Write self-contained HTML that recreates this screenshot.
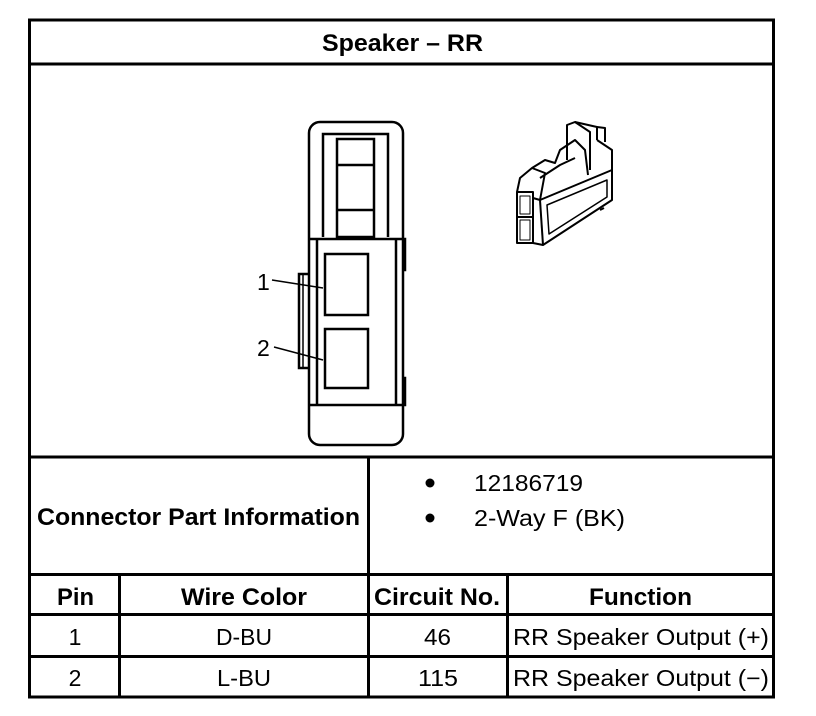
<!DOCTYPE html>
<html><head><meta charset="utf-8"><style>
html,body{margin:0;padding:0;background:#fff;}
svg{display:block;}
text{font-family:"Liberation Sans",Arial,sans-serif;fill:#000;}
.b{font-weight:bold;font-size:24px;}
.n{font-size:23px;}
</style></head><body>
<svg width="816" height="716" viewBox="0 0 816 716" xmlns="http://www.w3.org/2000/svg">
<g stroke="#000" stroke-width="3" fill="none">
<rect x="29.5" y="20" width="744" height="677"/>
<line x1="29" y1="64" x2="775" y2="64"/>
<line x1="29" y1="457" x2="775" y2="457"/>
<line x1="29" y1="574.5" x2="775" y2="574.5"/>
<line x1="29" y1="614.5" x2="775" y2="614.5"/>
<line x1="29" y1="656.5" x2="775" y2="656.5"/>
<line x1="368.5" y1="457" x2="368.5" y2="697"/>
<line x1="119.5" y1="574" x2="119.5" y2="697"/>
<line x1="507.5" y1="574" x2="507.5" y2="697"/>
</g>
<text class="b" x="322" y="51" textLength="161" lengthAdjust="spacingAndGlyphs">Speaker – RR</text>
<text class="b" x="37" y="525" textLength="323" lengthAdjust="spacingAndGlyphs">Connector Part Information</text>
<circle cx="430" cy="483" r="4.5" fill="#000"/>
<circle cx="430" cy="518" r="4.5" fill="#000"/>
<text class="n" x="474" y="491" textLength="109" lengthAdjust="spacingAndGlyphs">12186719</text>
<text class="n" x="474" y="526" textLength="151" lengthAdjust="spacingAndGlyphs">2-Way F (BK)</text>
<text class="b" x="57" y="605" textLength="37" lengthAdjust="spacingAndGlyphs">Pin</text>
<text class="b" x="181" y="605" textLength="126" lengthAdjust="spacingAndGlyphs">Wire Color</text>
<text class="b" x="374" y="605" textLength="126" lengthAdjust="spacingAndGlyphs">Circuit No.</text>
<text class="b" x="589" y="605" textLength="103" lengthAdjust="spacingAndGlyphs">Function</text>
<text class="n" x="75" y="645" text-anchor="middle">1</text>
<text class="n" x="216" y="645" textLength="56" lengthAdjust="spacingAndGlyphs">D-BU</text>
<text class="n" x="424" y="645" textLength="27" lengthAdjust="spacingAndGlyphs">46</text>
<text class="n" x="513" y="645" textLength="256" lengthAdjust="spacingAndGlyphs">RR Speaker Output (+)</text>
<text class="n" x="75" y="686" text-anchor="middle">2</text>
<text class="n" x="217" y="686" textLength="54" lengthAdjust="spacingAndGlyphs">L-BU</text>
<text class="n" x="418" y="686" textLength="40" lengthAdjust="spacingAndGlyphs">115</text>
<text class="n" x="513" y="686" textLength="256" lengthAdjust="spacingAndGlyphs">RR Speaker Output (−)</text>

<!-- front connector -->
<g stroke="#000" stroke-width="2.5" fill="none">
<rect x="309" y="122" width="94" height="323" rx="11"/>
<path d="M323,237 V134 H388 V237"/>
<rect x="337" y="139" width="37" height="98"/>
<line x1="337" y1="165" x2="374" y2="165"/>
<line x1="337" y1="210" x2="374" y2="210"/>
<line x1="309" y1="239" x2="403" y2="239"/>
<line x1="317" y1="239" x2="317" y2="405"/>
<line x1="396" y1="239" x2="396" y2="405"/>
<line x1="309" y1="405" x2="403" y2="405"/>
<path d="M403,239 H405 V270 H403"/>
<path d="M403,378 H405 V405 H403"/>
<path d="M309,274 H299 V368 H309"/>
<line x1="303" y1="274" x2="303" y2="368" stroke-width="1.5"/>
<rect x="325" y="254" width="43" height="61"/>
<rect x="325" y="329" width="43" height="59"/>
<line x1="272" y1="280" x2="323" y2="288" stroke-width="1.5"/>
<line x1="274" y1="347" x2="323" y2="360" stroke-width="1.5"/>
</g>
<text class="n" x="257" y="290">1</text>
<text class="n" x="257" y="356">2</text>

<!-- 3D connector -->
<g stroke="#000" stroke-width="2" fill="none" stroke-linejoin="round">
<rect x="517" y="192" width="16" height="51"/>
<line x1="517" y1="217" x2="533" y2="217"/>
<rect x="520" y="196" width="10" height="18" stroke-width="1"/>
<rect x="520" y="220" width="10" height="20" stroke-width="1"/>
<path d="M533,198 L540,200 L612,170 L612,200 L543,245 L533,243"/>
<line x1="540" y1="200" x2="543" y2="245"/>
<path d="M547,205 L607,180 L607,197 L549,234 Z" stroke-width="1.5"/>
<path d="M517,192 L520,178 L532,168 L545,173 L540,200"/>
<path d="M532,168 L545,160 L555,163 L560,150 L575,140 L585,150 L588,175"/>
<path d="M540,178 L560,165 L575,158"/>
<path d="M567,160 L567,125 L575,122 L597,127 L597,140"/>
<path d="M575,122 L590,132 L590,170"/>
<path d="M597,140 L612,150 L612,170"/>
<path d="M597,127 L605,128 L605,142"/>
<line x1="600" y1="210" x2="604" y2="208"/>
</g>
</svg>
</body></html>
